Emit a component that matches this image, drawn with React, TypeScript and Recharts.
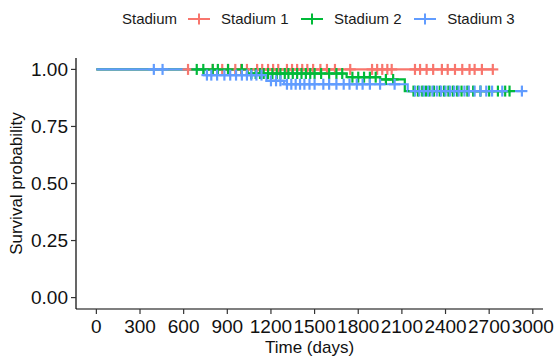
import React from "react";
import { ComposedChart, Line, Scatter, XAxis, YAxis } from "recharts";

const groups = ["Stadium 1", "Stadium 2", "Stadium 3"];
const colors = ["#F8766D", "#00BA38", "#619CFF"];

// days where survival drops, and survival after each drop
const s1EventDays: number[] = [];
const s1Surv: number[] = [];
const s1Censored = [
  630, 800, 865, 905, 955, 995, 1035, 1105, 1140, 1180, 1215, 1250, 1310,
  1345, 1380, 1415, 1450, 1490, 1540, 1585, 1640, 1745, 1895, 1930, 1965,
  2000, 2030, 2190, 2225, 2270, 2315, 2375, 2415, 2465, 2515, 2565, 2600,
  2650, 2725,
];

const s2EventDays = [1040, 1720, 1950, 2120];
const s2Surv = [0.982, 0.966, 0.956, 0.905];
const s2Censored = [
  690, 735, 800, 835, 905, 1000, 1065, 1095, 1125, 1150, 1180, 1210, 1240,
  1265, 1295, 1320, 1350, 1380, 1410, 1440, 1470, 1500, 1545, 1600, 1650,
  1690, 1760, 1800, 1840, 1880, 1920, 1990, 2040, 2180, 2210, 2240, 2265,
  2290, 2320, 2360, 2390, 2420, 2450, 2480, 2510, 2550, 2590, 2640, 2700,
  2760, 2810, 2840,
];

const s3EventDays = [740, 1170, 1290, 2140];
const s3Surv = [0.975, 0.95, 0.935, 0.905];
const s3Censored = [
  395, 455, 760, 790, 830, 880, 920, 960, 1000, 1035, 1065, 1100, 1135, 1200,
  1235, 1265, 1310, 1340, 1370, 1400, 1430, 1465, 1500, 1560, 1600, 1650,
  1700, 1740, 1790, 1830, 1880, 1950, 2050, 2190, 2220, 2250, 2280, 2310,
  2340, 2370, 2400, 2430, 2460, 2490, 2530, 2560, 2600, 2640, 2680, 2720,
  2790, 2925,
];

const xTicks = [0, 300, 600, 900, 1200, 1500, 1800, 2100, 2400, 2700, 3000];
const yTicks = [0, 0.25, 0.5, 0.75, 1];

const survAt = (days: number[], surv: number[], t: number) => {
  let s = 1;
  days.forEach((d, i) => {
    if (d <= t) s = surv[i];
  });
  return s;
};

const stepData = (days: number[], surv: number[], censored: number[]) => {
  const end = Math.max(...censored, ...days);
  const pts = [{ t: 0, s: 1 }, ...days.map((d, i) => ({ t: d, s: surv[i] }))];
  pts.push({ t: end, s: survAt(days, surv, end) });
  return pts;
};

const censorData = (days: number[], surv: number[], censored: number[]) =>
  censored.map((t) => ({ t, s: survAt(days, surv, t) }));

const series = [
  [s1EventDays, s1Surv, s1Censored],
  [s2EventDays, s2Surv, s2Censored],
  [s3EventDays, s3Surv, s3Censored],
].map(([d, s, c], i) => ({
  name: groups[i],
  color: colors[i],
  line: stepData(d, s, c),
  marks: censorData(d, s, c),
}));

const font = "'Liberation Sans', Arial, sans-serif";

const crossShape = (color: string) => (props: any) => {
  const { cx, cy } = props;
  return (
    <g>
      <line x1={cx - 5.5} x2={cx + 5.5} y1={cy} y2={cy} stroke={color} strokeWidth={2.2} />
      <line x1={cx} x2={cx} y1={cy - 5.5} y2={cy + 5.5} stroke={color} strokeWidth={2.2} />
    </g>
  );
};

const LegendKey = ({ color }: { color: string }) => (
  <svg width={22} height={14} style={{ display: "block" }}>
    <line x1={0} x2={22} y1={7} y2={7} stroke={color} strokeWidth={2} />
    <line x1={11} x2={11} y1={1.5} y2={12.5} stroke={color} strokeWidth={2} />
  </svg>
);

export default function App() {
  return (
    <div
      style={{
        position: "absolute",
        left: 0,
        top: 0,
        width: 557,
        height: 357,
        background: "#fff",
        fontFamily: font,
      }}
    >
      <div
        style={{
          position: "absolute",
          left: 122,
          top: 9,
          display: "flex",
          alignItems: "center",
          fontSize: 15,
          lineHeight: "20px",
          color: "#1a1a1a",
          whiteSpace: "nowrap",
        }}
      >
        <span style={{ marginRight: 11 }}>Stadium</span>
        {series.map((s, i) => (
          <React.Fragment key={s.name}>
            <LegendKey color={s.color} />
            <span style={{ marginLeft: 11, marginRight: i < 2 ? 12.5 : 0 }}>{s.name}</span>
          </React.Fragment>
        ))}
      </div>
      <ComposedChart
        width={557}
        height={357}
        margin={{ top: 58, right: 14, bottom: 0, left: 0 }}
      >
        <XAxis
          type="number"
          dataKey="t"
          domain={[-140, 3070]}
          ticks={xTicks}
          interval={0}
          allowDataOverflow
          height={48}
          tickSize={5}
          tickMargin={6}
          axisLine={{ stroke: "#000", strokeWidth: 1.2 }}
          tickLine={{ stroke: "#333", strokeWidth: 1.2 }}
          tick={{ fill: "#111", fontSize: 19, fontFamily: font }}
          label={{
            value: "Time (days)",
            position: "insideBottom",
            offset: 4,
            style: { fill: "#111", fontSize: 17, fontFamily: font },
          }}
        />
        <YAxis
          type="number"
          dataKey="s"
          domain={[-0.05, 1.05]}
          ticks={yTicks}
          interval={0}
          allowDataOverflow
          width={76}
          tickSize={5}
          tickMargin={3}
          tickFormatter={(v: number) => v.toFixed(2)}
          axisLine={{ stroke: "#000", strokeWidth: 1.2 }}
          tickLine={{ stroke: "#333", strokeWidth: 1.2 }}
          tick={{ fill: "#111", fontSize: 19, fontFamily: font }}
          label={{
            value: "Survival probability",
            angle: -90,
            position: "insideLeft",
            offset: 16,
            style: { fill: "#111", fontSize: 17, fontFamily: font, textAnchor: "middle" },
          }}
        />
        {series.map((s) => (
          <Line
            key={"l" + s.name}
            data={s.line}
            dataKey="s"
            type="stepAfter"
            stroke={s.color}
            strokeWidth={2.2}
            dot={false}
            activeDot={false}
            isAnimationActive={false}
          />
        ))}
        {series.map((s) => (
          <Scatter
            key={"c" + s.name}
            data={s.marks}
            dataKey="s"
            fill={s.color}
            shape={crossShape(s.color)}
            isAnimationActive={false}
          />
        ))}
      </ComposedChart>
    </div>
  );
}
